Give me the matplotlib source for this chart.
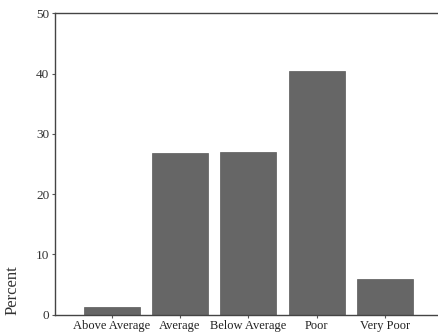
from matplotlib import pyplot

categories = ['Above Average', 'Average', 'Below Average', 'Poor', 'Very Poor']
percent = [1.3, 26.9, 27.0, 40.4, 5.9]
yticks = [0, 10, 20, 30, 40, 50]


def Run():
  pyplot.rcParams['font.family'] = ['Liberation Serif', 'DejaVu Serif']
  fig = pyplot.figure(figsize=(4.39, 3.34), dpi=100)
  ax = fig.add_axes([0.125, 0.058, 0.875, 0.902])

  x = range(len(categories))
  ax.bar(x, percent, width=0.82, color='#666666', edgecolor='#5a5a5a',
         linewidth=0.5)

  ax.set_xlim(-0.83, 4.79)
  ax.set_ylim(0, 50)
  ax.set_xticks(list(x))
  ax.set_xticklabels(categories, fontsize=9.0)
  ax.set_yticks(yticks)
  ax.set_yticklabels([str(t) for t in yticks], fontsize=9.5, color='#333333')
  ax.tick_params(axis='both', length=2, width=0.8, color='#555555', pad=2)
  ax.tick_params(axis='x', colors='#555555', labelcolor='#222222')

  for side in ('left', 'top', 'bottom'):
    ax.spines[side].set_color('#444444')
    ax.spines[side].set_linewidth(1.0)
  ax.spines['right'].set_visible(False)

  ax.set_ylabel('Percent', fontsize=12, color='#333333')
  ax.yaxis.set_label_coords(-0.09, 0.0)
  ax.yaxis.label.set_verticalalignment('bottom')
  ax.yaxis.label.set_horizontalalignment('left')

  fig.savefig('out.png', dpi=100)


if __name__ == '__main__':
  Run()
